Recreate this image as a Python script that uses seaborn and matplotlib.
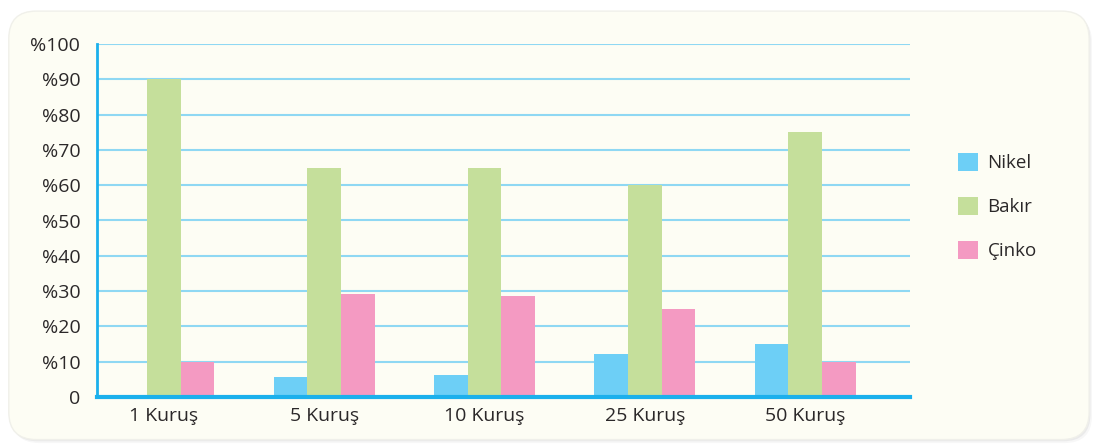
import pandas as pd
import matplotlib.pyplot as plt
import seaborn as sns
from matplotlib.patches import FancyBboxPatch, Patch

# Data
coins = ["1 Kuruş", "5 Kuruş", "10 Kuruş", "25 Kuruş", "50 Kuruş"]
nikel = [0, 5.7, 6.2, 12.2, 15]
bakir = [90, 65, 65, 60, 75]
cinko = [10, 29.2, 28.6, 25, 10]
metals = ["Nikel", "Bakır", "Çinko"]
colors = ["#6dcff6", "#c5df9b", "#f49ac2"]
y_ticks = [0, 10, 20, 30, 40, 50, 60, 70, 80, 90, 100]
y_labels = ["0"] + [f"%{v}" for v in y_ticks[1:]]

df = pd.DataFrame({
    "coin": coins * 3,
    "metal": [m for m in metals for _ in coins],
    "value": nikel + bakir + cinko,
})

sns.set_style("white")
plt.rcParams["font.family"] = ["Open Sans", "DejaVu Sans"]

panel_color = "#fdfdf4"
fig = plt.figure(figsize=(10.99, 4.44), dpi=100)
fig.patch.set_facecolor("#ffffff")

# Rounded panel with a soft shadow
for off, alpha in [(0.008, 0.03), (0.004, 0.05)]:
    fig.patches.append(FancyBboxPatch(
        (0.008 + off / 3, 0.01 - off), 0.983, 0.965, boxstyle="round,pad=0,rounding_size=0.025",
        transform=fig.transFigure, facecolor="#000000", alpha=alpha, edgecolor="none",
        mutation_aspect=1099 / 444, zorder=-2))
fig.patches.append(FancyBboxPatch(
    (0.008, 0.01), 0.983, 0.965, boxstyle="round,pad=0,rounding_size=0.025",
    transform=fig.transFigure, facecolor=panel_color, edgecolor="#f0f0ea",
    linewidth=1, mutation_aspect=1099 / 444, zorder=-1))

ax = fig.add_axes([97 / 1099, 1 - 397 / 444, (910 - 97) / 1099, (397 - 44) / 444])
ax.set_facecolor("none")

sns.barplot(data=df, x="coin", y="value", hue="metal", hue_order=metals,
            palette=colors, width=0.63, gap=0, saturation=1, ax=ax,
            legend=False, linewidth=0, zorder=3)

ax.set_ylim(0, 100)
ax.set_xlim(-0.418, 4.655)
ax.set_yticks(y_ticks)
ax.set_yticklabels(y_labels)
ax.yaxis.grid(True, color="#8fd8f3", linewidth=1.5, zorder=1)
ax.set_axisbelow(True)
ax.tick_params(axis="both", length=0, labelsize=14, colors="#2b2829")
ax.tick_params(axis="y", pad=12)
ax.tick_params(axis="x", pad=7)
ax.set_xlabel("")
ax.set_ylabel("")

for side in ["top", "right"]:
    ax.spines[side].set_visible(False)
ax.spines["left"].set_color("#1bb0ec")
ax.spines["left"].set_linewidth(2)
ax.spines["bottom"].set_color("#1bb0ec")
ax.spines["bottom"].set_linewidth(3)
ax.spines["left"].set_zorder(5)
ax.spines["bottom"].set_zorder(5)

handles = [Patch(facecolor=c, edgecolor="none", label=m) for m, c in zip(metals, colors)]
fig.legend(handles=handles, loc="center left", bbox_to_anchor=(0.856, 0.535),
           frameon=False, fontsize=13.5, labelspacing=1.3, handlelength=1.1,
           handleheight=1.1, handletextpad=0.5, labelcolor="#2b2829")

fig.savefig("out.png", dpi=100, facecolor=fig.get_facecolor())
